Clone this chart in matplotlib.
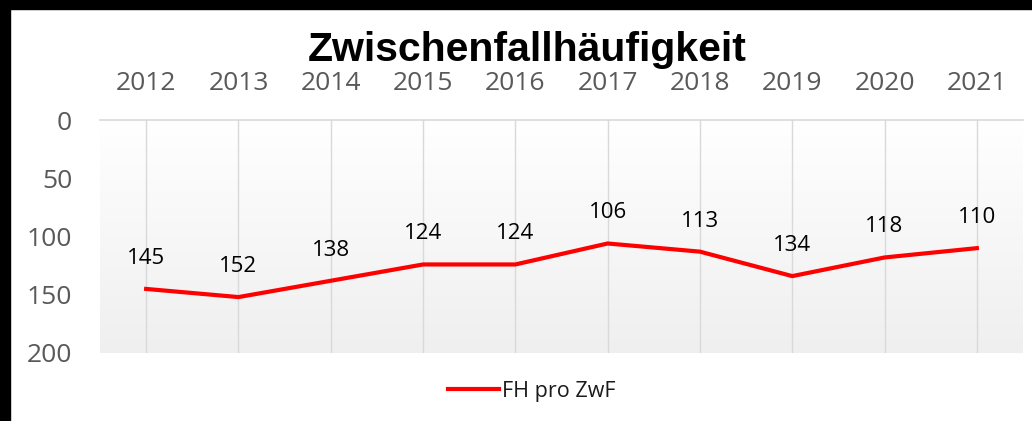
import matplotlib
matplotlib.use("Agg")
import matplotlib.pyplot as plt
import numpy as np
from matplotlib.patches import Rectangle
from matplotlib.lines import Line2D

# data
years = ["2012", "2013", "2014", "2015", "2016", "2017", "2018", "2019", "2020", "2021"]
fh_pro_zwf = [145, 152, 138, 124, 124, 106, 113, 134, 118, 110]
y_ticks = [0, 50, 100, 150, 200]

W, H = 1032, 421
fig = plt.figure(figsize=(W / 100, H / 100), dpi=100, facecolor="white")
plt.rcParams["font.family"] = ["Open Sans", "DejaVu Sans"]

ax = fig.add_axes([100 / W, 1 - 353 / H, 923 / W, 233 / H])
ax.set_xlim(-0.5, len(years) - 0.5)
ax.set_ylim(200, 0)

# gradient plot area: white at top, light grey at bottom
grad = np.linspace(0, 1, 256).reshape(-1, 1)
ax.imshow(grad, extent=[0, 1, 0, 1], transform=ax.transAxes, aspect="auto",
          cmap=matplotlib.colors.LinearSegmentedColormap.from_list("g", ["#efefef", "#ffffff"]),
          origin="lower", zorder=0)

x = np.arange(len(years))
for xi in x:
    ax.axvline(xi, color="#d9d9d9", lw=1, zorder=1)

ax.plot(x, fh_pro_zwf, color="#ff0000", lw=3, solid_joinstyle="round", zorder=3)
for xi, v in zip(x, fh_pro_zwf):
    ax.annotate(str(v), (xi, v), xytext=(0, 22), textcoords="offset points",
                ha="center", va="center", fontsize=16, color="#000000", zorder=4)

for s in ["left", "right", "bottom"]:
    ax.spines[s].set_visible(False)
ax.spines["top"].set_color("#d9d9d9")
ax.spines["top"].set_linewidth(1.2)

ax.xaxis.tick_top()
ax.set_xticks(x)
ax.set_xticklabels(years)
ax.set_yticks(y_ticks)
ax.tick_params(axis="x", length=0, pad=17, labelsize=19, labelcolor="#595959")
ax.tick_params(axis="y", length=0, pad=20, labelsize=19, labelcolor="#595959")

fig.text(527 / W, 1 - 50 / H, "Zwischenfallhäufigkeit", ha="center", va="center",
         fontsize=29.5, fontweight="bold", family=["Liberation Sans", "DejaVu Sans"], color="black")

leg = fig.legend([Line2D([0], [0], color="#ff0000", lw=3)], ["FH pro ZwF"],
                 loc="center", bbox_to_anchor=(532 / W, 1 - 391 / H), frameon=False,
                 fontsize=15.5, handlelength=2.35, handletextpad=0.15)
for t in leg.get_texts():
    t.set_color("#1a1a1a")

# black border strips at left and top
fig.patches.append(Rectangle((0, 0), 10 / W, 1, transform=fig.transFigure, color="black", zorder=10))
fig.patches.append(Rectangle((0, 1 - 9 / H), 1, 9 / H, transform=fig.transFigure, color="black", zorder=10))

fig.savefig("out.png", dpi=100, facecolor="white")
